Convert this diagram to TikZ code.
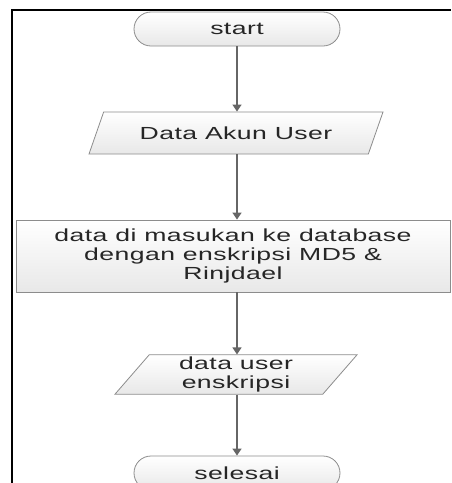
\documentclass[tikz,border=0pt]{standalone}
\usepackage{fontspec}
\setmainfont{Liberation Sans}[FakeStretch=1.52,LetterSpace=2.5]
\usetikzlibrary{shapes.geometric,arrows.meta}
\tikzset{
  blok/.style={draw=black!45, top color=white, bottom color=black!9, line width=0.8pt,
    text=black!85, font=\fontsize{17.5}{19}\selectfont, inner sep=2pt},
  terminal/.style={blok, rectangle, rounded corners=17pt, minimum width=206pt, minimum height=34pt},
  io/.style={blok, trapezium, trapezium left angle=49, trapezium right angle=131,
    trapezium stretches body, align=center},
  proses/.style={blok, rectangle, minimum width=434pt, minimum height=72pt, align=center},
  alur/.style={draw=black!60, line width=1.4pt, -{Triangle[width=9pt,length=7pt]}}
}
\begin{document}
\begin{tikzpicture}[x=1pt,y=-1pt]
\pgfmathsetmacro{\xmid}{237}
\useasboundingbox (0,0) rectangle (451,483);
% bingkai
\draw[line width=2pt] (12,483) -- (12,10) -- (451,10);
% langkah
\node[terminal] (start) at (\xmid,29) {start};
\node[io, minimum width=294pt, minimum height=42pt] (akun) at (236,133) {Data Akun User};
\node[proses] (simpan) at (233,256) {data di masukan ke database\\dengan enskripsi MD5 \&\\Rinjdael};
\node[io, minimum width=242pt, minimum height=39pt] (hasil) at (236,374.5) {data user\\enskripsi};
\node[terminal] (selesai) at (\xmid,473) {selesai};
% alur
\draw[alur] (start.south) -- (start.south |- akun.north);
\draw[alur] (start.south |- akun.south) -- (start.south |- simpan.north);
\draw[alur] (start.south |- simpan.south) -- (start.south |- hasil.north);
\draw[alur] (start.south |- hasil.south) -- (selesai.north);
\end{tikzpicture}
\end{document}
